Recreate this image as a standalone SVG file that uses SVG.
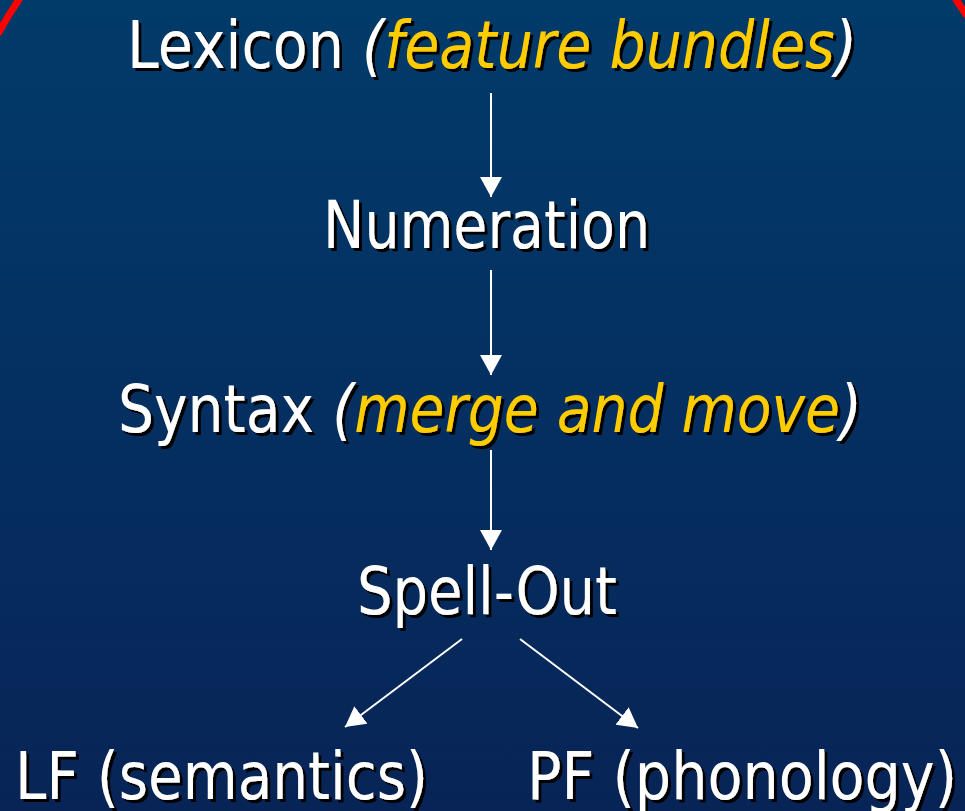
<svg xmlns="http://www.w3.org/2000/svg" width="965" height="811" viewBox="0 0 965 811">
<defs>
<linearGradient id="bg" x1="0" y1="0" x2="0" y2="1">
<stop offset="0" stop-color="#013b6a"/>
<stop offset="1" stop-color="#082457"/>
</linearGradient>
<filter id="sh" x="-5%" y="-20%" width="110%" height="140%">
<feOffset in="SourceAlpha" dx="3" dy="3" result="o"/>
<feFlood flood-color="#000"/>
<feComposite in2="o" operator="in" result="s"/>
<feMerge><feMergeNode in="s"/><feMergeNode in="SourceGraphic"/></feMerge>
</filter>
<marker id="ah" viewBox="0 0 20 22" refX="20" refY="11" markerWidth="20" markerHeight="22" markerUnits="userSpaceOnUse" orient="auto">
<path d="M0,0 L20,11 L0,22 Z" fill="#fff"/>
</marker>
<style>
.t{font-family:"DejaVu Sans","Liberation Sans",sans-serif;font-size:66px;fill:#fff;filter:url(#sh)}
.y{fill:#ffcc00;font-style:italic}
.i{font-style:italic}
.c{stroke:#fff;stroke-width:2;fill:none;marker-end:url(#ah)}
.r{stroke:#ff0000;stroke-width:7;fill:none}
</style>
</defs>
<rect width="965" height="811" fill="url(#bg)"/>
<path class="r" d="M20,-2 Q9,14 -2,34"/>
<path class="r" d="M955,-2 Q961,7 967,16"/>
<g id="connectors">
<line class="c" x1="491" y1="93" x2="491" y2="197"/>
<line class="c" x1="491" y1="270" x2="491" y2="375"/>
<line class="c" x1="491" y1="450" x2="491" y2="550"/>
<line class="c" x1="462" y1="639" x2="345" y2="727"/>
<line class="c" x1="520" y1="639" x2="638" y2="728"/>
</g>
<g id="lexicon">
<text class="t" x="127" y="68" textLength="730" lengthAdjust="spacingAndGlyphs">Lexicon <tspan class="i">(</tspan><tspan class="y">feature bundles</tspan><tspan class="i">)</tspan></text>
</g>
<g id="numeration">
<text class="t" x="323" y="248" textLength="327" lengthAdjust="spacingAndGlyphs">Numeration</text>
</g>
<g id="syntax">
<text class="t" x="118" y="432" textLength="744" lengthAdjust="spacingAndGlyphs">Syntax <tspan class="i">(</tspan><tspan class="y">merge and move</tspan><tspan class="i">)</tspan></text>
</g>
<g id="spellout">
<text class="t" x="357" y="614" textLength="260" lengthAdjust="spacingAndGlyphs">Spell-Out</text>
</g>
<g id="lf">
<text class="t" x="15" y="799" textLength="413" lengthAdjust="spacingAndGlyphs">LF (semantics)</text>
</g>
<g id="pf">
<text class="t" x="527" y="799" textLength="430" lengthAdjust="spacingAndGlyphs">PF (phonology)</text>
</g>
</svg>
